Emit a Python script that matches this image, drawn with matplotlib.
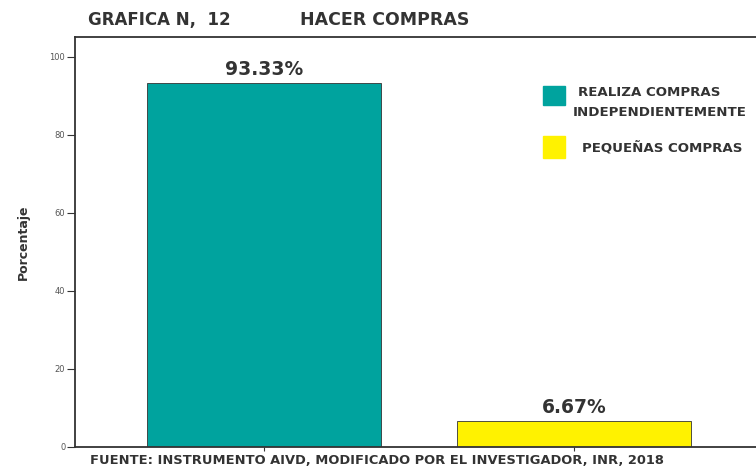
import matplotlib
matplotlib.use("Agg")
import matplotlib.pyplot as plt
from matplotlib.patches import Rectangle

categories = ["REALIZA COMPRAS\nINDEPENDIENTEMENTE", "PEQUEÑAS COMPRAS"]
values = [93.33, 6.67]
labels = ["93.33%", "6.67%"]
colors = ["#00A39E", "#FFF200"]
yticks = [0, 20, 40, 60, 80, 100]

FONT = "DejaVu Sans"
TXT = "#333333"

W, H = 756, 468
fig = plt.figure(figsize=(W / 100, H / 100), dpi=100)
ax = fig.add_axes([75 / W, 21 / H, (W - 75) / W + 0.01, (447 - 37) / H])

x = [0, 1]
bars = ax.bar(x, values, width=0.755, color=colors, edgecolor="#333333", linewidth=0.6)
ax.set_xlim(-0.609, 1.61)
ax.set_ylim(0, 105.1)
ax.set_yticks(yticks)
ax.set_yticklabels([str(t) for t in yticks], fontsize=6, color="#555555")
ax.set_xticks(x)
ax.set_xticklabels([])
ax.tick_params(axis="x", length=3, width=0.8, color="#333333")
ax.tick_params(axis="y", length=6, width=0.8, color="#333333", pad=1)
for s in ["left", "bottom", "top"]:
    ax.spines[s].set_color("#333333")
    ax.spines[s].set_linewidth(1.3)
ax.spines["right"].set_visible(False)

for xi, v, lab in zip(x, values, labels):
    ax.text(xi, v + 1.0, lab, ha="center", va="bottom", fontsize=13.5,
            fontweight="bold", color=TXT, family=FONT)

ax.set_ylabel("Porcentaje", fontsize=9, fontweight="bold", color=TXT,
              family=FONT, labelpad=14)

# legend
fig.patches.append(Rectangle((543 / W, 1 - 105 / H), 22 / W, 19 / H,
                             transform=fig.transFigure, color=colors[0]))
fig.patches.append(Rectangle((543 / W, 1 - 158 / H), 22 / W, 22 / H,
                             transform=fig.transFigure, color=colors[1]))
fig.text(578 / W, 1 - 93 / H, "REALIZA COMPRAS", fontsize=9.6, fontweight="bold",
         color=TXT, family=FONT, va="center", ha="left")
fig.text(573 / W, 1 - 113 / H, "INDEPENDIENTEMENTE", fontsize=9.6, fontweight="bold",
         color=TXT, family=FONT, va="center", ha="left")
fig.text(582 / W, 1 - 148 / H, "PEQUEÑAS COMPRAS", fontsize=9.6, fontweight="bold",
         color=TXT, family=FONT, va="center", ha="left")

fig.text(88 / W, 1 - 20 / H, "GRAFICA N,  12", fontsize=12, fontweight="bold",
         color=TXT, family=FONT, va="center", ha="left")
fig.text(300 / W, 1 - 20 / H, "HACER COMPRAS", fontsize=12.5, fontweight="bold",
         color=TXT, family=FONT, va="center", ha="left")
fig.text(90 / W, 1 - 461 / H, "FUENTE: INSTRUMENTO AIVD, MODIFICADO POR EL INVESTIGADOR, INR, 2018",
         fontsize=9.4, fontweight="bold", color=TXT, family=FONT,
         va="center", ha="left")

fig.savefig("out.png", dpi=100)
